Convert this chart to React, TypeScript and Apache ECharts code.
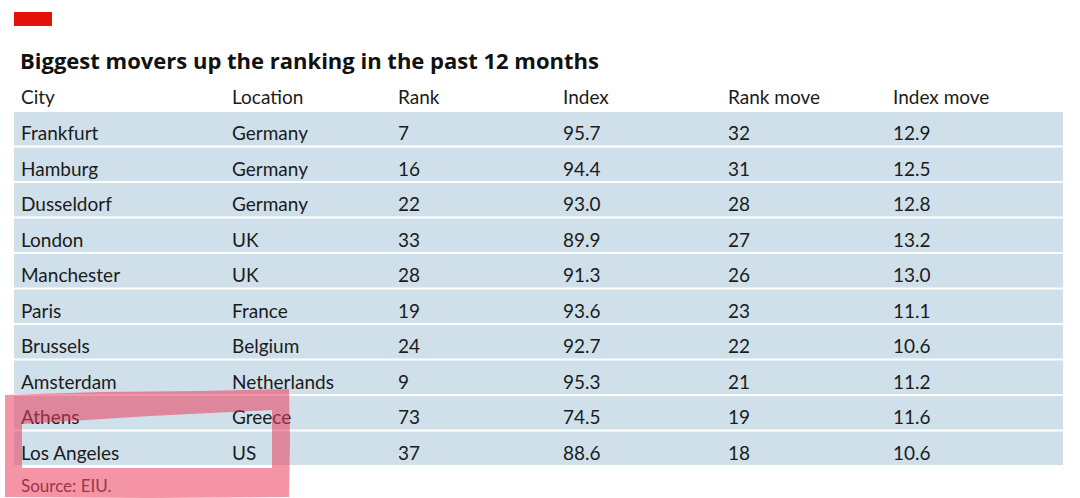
import React, { useEffect, useRef } from "react";
import * as echarts from "echarts";

const title = "Biggest movers up the ranking in the past 12 months";
const headers = ["City", "Location", "Rank", "Index", "Rank move", "Index move"];
const cities = ["Frankfurt", "Hamburg", "Dusseldorf", "London", "Manchester", "Paris", "Brussels", "Amsterdam", "Athens", "Los Angeles"];
const locations = ["Germany", "Germany", "Germany", "UK", "UK", "France", "Belgium", "Netherlands", "Greece", "US"];
const ranks = [7, 16, 22, 33, 28, 19, 24, 9, 73, 37];
const indices = [95.7, 94.4, 93.0, 89.9, 91.3, 93.6, 92.7, 95.3, 74.5, 88.6];
const rankMoves = [32, 31, 28, 27, 26, 23, 22, 21, 19, 18];
const indexMoves = [12.9, 12.5, 12.8, 13.2, 13.0, 11.1, 10.6, 11.2, 11.6, 10.6];
const source = "Source: EIU.";

// layout constants
const GRID_LEFT = 14;
const COL_X = [21, 232, 398, 563, 728, 893];
const FONT = "Lato, 'Open Sans', sans-serif";
const TEXT_COLOR = "#1b1b1b";
const BAND_COLOR = "#cfe0ea";
const MARK = "rgba(235, 60, 90, 0.55)";

echarts.graphic.registerShape(
  "marker",
  echarts.graphic.extendPath(
    "M5 395 L100 392 L200 391 L289 389 L290 440 L289 497 L150 498 L5 497 Z M22 424 L22 468 L272 468 L272 410 L150 416 Z",
    {}
  )
);

export default function App() {
  const ref = useRef<HTMLDivElement>(null);
  useEffect(() => {
    const chart = echarts.init(ref.current!, null, { renderer: "svg" });
    const rows = cities.map((c, i) => [0, i]);
    const cellText = (i: number) => [
      cities[i],
      locations[i],
      String(ranks[i]),
      indices[i].toFixed(1),
      String(rankMoves[i]),
      indexMoves[i].toFixed(1),
    ];
    chart.setOption({
      animation: false,
      grid: { left: GRID_LEFT, right: 17, top: 111, bottom: 32 },
      xAxis: { type: "value", min: 0, max: 1, show: false },
      yAxis: { type: "category", data: cities, inverse: true, show: false },
      series: [
        {
          type: "custom",
          data: rows,
          renderItem: (params: any, api: any) => {
            const i = api.value(1);
            const start = api.coord([0, i]);
            const size = api.size([1, 1]);
            const top = start[1] - size[1] / 2;
            const x0 = start[0];
            const texts = cellText(i).map((t, k) => ({
              type: "text",
              z2: 10,
              x: x0 + (COL_X[k] - GRID_LEFT),
              y: top + 31,
              style: {
                text: t,
                fill: TEXT_COLOR,
                font: `19px ${FONT}`,
                textAlign: "left",
                verticalAlign: "bottom",
              },
            }));
            return {
              type: "group",
              children: [
                {
                  type: "rect",
                  shape: { x: x0, y: top + 1, width: size[0], height: size[1] - 2 },
                  style: { fill: BAND_COLOR },
                },
                ...texts,
              ],
            };
          },
        },
      ],
      graphic: [
        { type: "rect", shape: { x: 14, y: 12, width: 38, height: 14 }, style: { fill: "#e3120b" } },
        {
          type: "text",
          x: 20,
          y: 71,
          style: { text: title, fill: "#111", font: `bold 22px 'Open Sans', sans-serif`, textVerticalAlign: "bottom" },
        },
        ...headers.map((h, k) => ({
          type: "text",
          x: COL_X[k],
          y: 106,
          style: { text: h, fill: TEXT_COLOR, font: `19px ${FONT}`, textVerticalAlign: "bottom" },
        })),
        {
          type: "text",
          x: 21,
          y: 494,
          style: { text: source, fill: "#333", font: `17px ${FONT}`, textVerticalAlign: "bottom" },
        },
        // hand-drawn highlight
        { type: "marker", z: 100, x: 0, y: 0, style: { fill: MARK } },
      ],
    });
    return () => chart.dispose();
  }, []);
  return <div ref={ref} style={{ width: 1080, height: 498, position: "absolute", left: 0, top: 0 }} />;
}
